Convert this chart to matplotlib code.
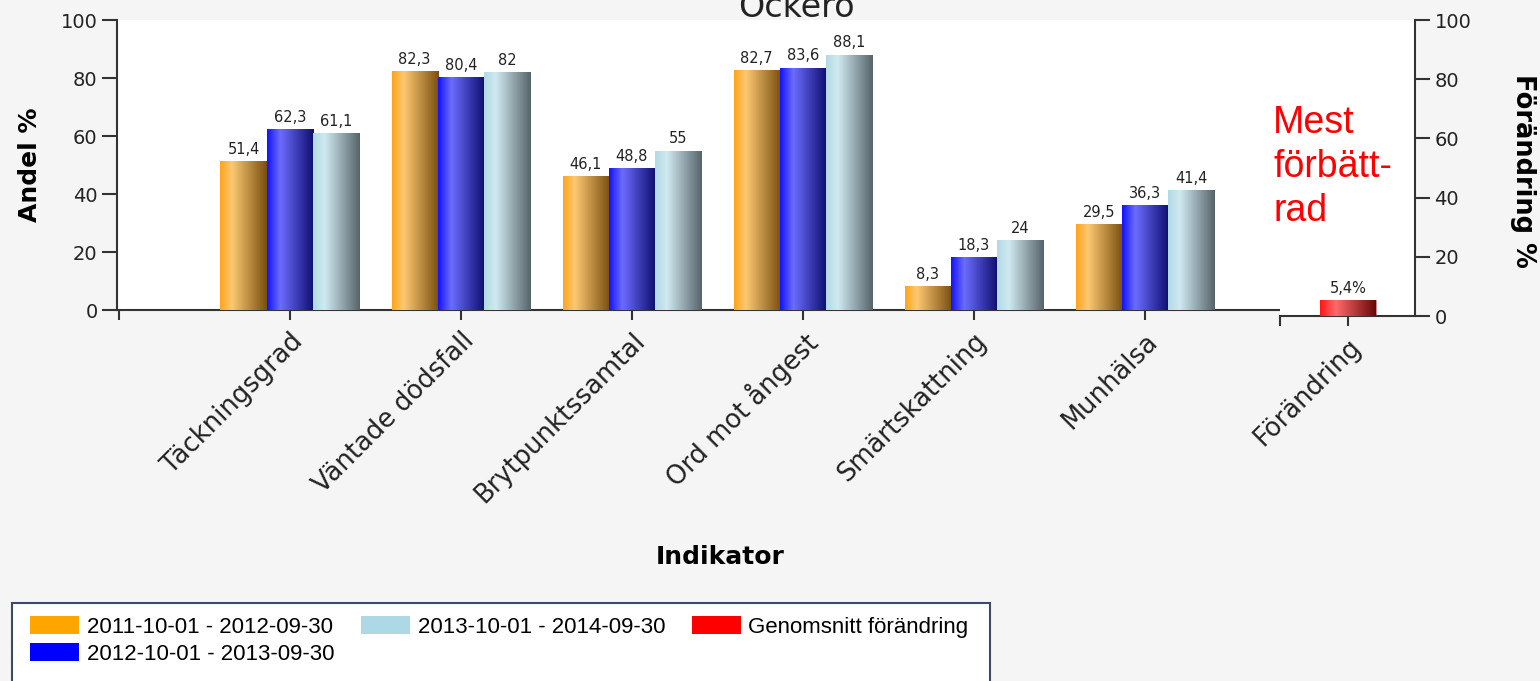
import numpy as np
import matplotlib
matplotlib.use('Agg')
import matplotlib.pyplot as plt
from matplotlib.colors import LinearSegmentedColormap
from matplotlib.patches import Patch, Rectangle

# data
indikatorer = ['Täckningsgrad', 'Väntade dödsfall', 'Brytpunktssamtal',
               'Ord mot ångest', 'Smärtskattning', 'Munhälsa']
period_labels = ['2011-10-01 - 2012-09-30', '2012-10-01 - 2013-09-30',
                 '2013-10-01 - 2014-09-30']
andel_2012 = [51.4, 82.3, 46.1, 82.7, 8.3, 29.5]
andel_2013 = [62.3, 80.4, 48.8, 83.6, 18.3, 36.3]
andel_2014 = [61.1, 82, 55, 88.1, 24, 41.4]
forandring_label = 'Förändring'
forandring_namn = 'Genomsnitt förändring'
forandring = [5.4]

W, H = 1540, 681
fig = plt.figure(figsize=(W / 100, H / 100), dpi=100, facecolor='#f5f5f5')

def fx(px):
    return px / W

def fy(py):
    return 1 - py / H

# colours (solid for legend, gradient stops for bars)
solid = ['#ffa500', '#0000ff', '#add8e6', '#ff0000']
cmaps = [
    LinearSegmentedColormap.from_list('o', [(0, '#ffa41a'), (0.25, '#fdc872'), (1, '#7a5010')]),
    LinearSegmentedColormap.from_list('b', [(0, '#1212ff'), (0.28, '#6c6cff'), (1, '#0e0e6e')]),
    LinearSegmentedColormap.from_list('l', [(0, '#b2dae5'), (0.25, '#d0e9f0'), (1, '#56646a')]),
    LinearSegmentedColormap.from_list('r', [(0, '#ff1616'), (0.28, '#ff6a6a'), (1, '#680808')]),
]
grad = np.linspace(0, 1, 128).reshape(1, -1)


def shade(ax, bars, cmap):
    for b in bars:
        x0, w, h = b.get_x(), b.get_width(), b.get_height()
        im = ax.imshow(grad, cmap=cmap, extent=(x0, x0 + w, 0, h), aspect='auto',
                       interpolation='bilinear', zorder=3)
        im.set_clip_path(b)


def fmt(v):
    return f'{v:g}'.replace('.', ',')


txt = '#222222'
spine_c = '#333333'

# main axes
ax = fig.add_axes([fx(117), fy(310), fx(1280 - 117), fy(20) - fy(310)])
ax.set_facecolor('white')
x = np.arange(len(indikatorer))
bw = 0.27
series = [andel_2012, andel_2013, andel_2014]
for i, vals in enumerate(series):
    bars = ax.bar(x + (i - 1) * bw, vals, bw, color=solid[i], zorder=2,
                  edgecolor='#999999', linewidth=0.4)
    shade(ax, bars, cmaps[i])
    for b, v in zip(bars, vals):
        ax.annotate(fmt(v), (b.get_x() + b.get_width() / 2, v), xytext=(0, 3),
                    textcoords='offset points', ha='center', va='bottom',
                    fontsize=10.5, color=txt)

ax.set_xlim(-1.01, 5.79)
ax.set_ylim(0, 100)
ax.set_yticks(range(0, 101, 20))
ax.set_xticks([-1] + list(x))
ax.set_xticklabels([''] + indikatorer, rotation=45, ha='right', va='top',
                   rotation_mode='anchor', fontsize=18.5, color=txt)
ax.tick_params(axis='y', length=11, width=1.5, color=spine_c, labelsize=14,
               labelcolor=txt, pad=3)
ax.tick_params(axis='x', length=7, width=1.5, color=spine_c, pad=6)
for s in ['top', 'right']:
    ax.spines[s].set_visible(False)
for s in ['left', 'bottom']:
    ax.spines[s].set_color(spine_c)
    ax.spines[s].set_linewidth(1.5)
ax.set_ylabel('Andel %', fontsize=18, fontweight='bold', color='black', va='center')
ax.yaxis.set_label_coords(-0.075, 0.5)

# change axes
ax2 = fig.add_axes([fx(1280), fy(316), fx(1415 - 1280), fy(20) - fy(316)])
ax2.set_facecolor('white')
rb = ax2.bar([0], forandring, 0.82, color=solid[3], zorder=2,
             edgecolor='#999999', linewidth=0.4)
shade(ax2, rb, cmaps[3])
ax2.annotate(fmt(forandring[0]) + '%', (0, forandring[0]), xytext=(0, 3),
             textcoords='offset points', ha='center', va='bottom',
             fontsize=10.5, color=txt)
ax2.set_xlim(-1, 0.985)
ax2.set_ylim(0, 100)
ax2.set_yticks(range(0, 101, 20))
ax2.set_xticks([-1, 0])
ax2.set_xticklabels(['', forandring_label], rotation=45, ha='right', va='top',
                    rotation_mode='anchor', fontsize=18.5, color=txt)
ax2.yaxis.tick_right()
ax2.yaxis.set_label_position('right')
ax2.tick_params(axis='y', length=11, width=1.5, color=spine_c, labelsize=14,
                labelcolor=txt, pad=3)
ax2.tick_params(axis='x', length=7, width=1.5, color=spine_c, pad=6)
for s in ['top', 'left']:
    ax2.spines[s].set_visible(False)
for s in ['right', 'bottom']:
    ax2.spines[s].set_color(spine_c)
    ax2.spines[s].set_linewidth(1.5)
ax2.set_ylabel('Förändring %', fontsize=18.5, fontweight='bold', color='black',
               rotation=270, va='center')
ax2.yaxis.set_label_coords(1.8, 0.49)

# texts
fig.text(fx(796), fy(17), 'Öckerö', ha='center', va='baseline', fontsize=24,
         color='#222222')
fig.text(fx(720), fy(557), 'Indikator', ha='center', va='center', fontsize=18,
         fontweight='bold', color='black')
fig.text(fx(1273), fy(105), 'Mest\nförbätt-\nrad', ha='left', va='top',
         fontsize=27, color='red', family='Liberation Sans', linespacing=1.28)

# legend box
fig.patches.append(Rectangle((fx(12), fy(700)), fx(990 - 12), fy(603) - fy(700),
                             transform=fig.transFigure, facecolor='white',
                             edgecolor='#3c4a66', linewidth=1.5, zorder=0))
handles = [Patch(facecolor=c) for c in solid]
fig.legend(handles, period_labels + [forandring_namn], ncol=3, loc='upper left',
           bbox_to_anchor=(fx(30), fy(616)), frameon=False,
           prop={'family': ['Liberation Sans Narrow', 'Liberation Sans'], 'size': 16},
           handlelength=2.2, handleheight=0.85, handletextpad=0.35,
           columnspacing=1.2, labelspacing=0.26, borderaxespad=0, borderpad=0)

fig.savefig('out.png', dpi=100, facecolor=fig.get_facecolor())
